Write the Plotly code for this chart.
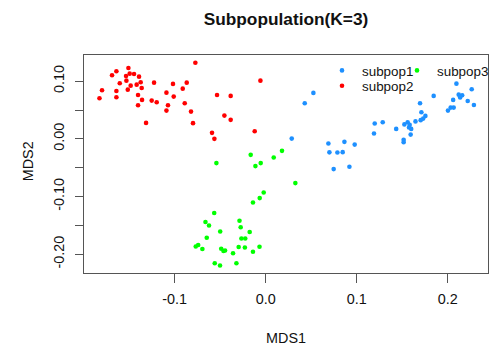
import plotly.graph_objects as go

# ---- data ----
subpop1_x = [0.0524, 0.0429, 0.0286, 0.1198, 0.1286, 0.1190, 0.0689, 0.0865, 0.0978, 0.0700,
             0.0788, 0.0846, 0.0747, 0.0920, 0.1434, 0.1524, 0.1560, 0.1582, 0.1575, 0.1599,
             0.1646, 0.1593, 0.1516, 0.1516, 0.1696, 0.1711, 0.1755, 0.1731, 0.1703, 0.1846,
             0.2096, 0.2264, 0.2121, 0.2159, 0.2137, 0.2060, 0.2220, 0.2288, 0.2033, 0.2066,
             0.2003]
subpop1_y = [0.0796, 0.0618, 0.0005, 0.0265, 0.0289, 0.0092, -0.0081, -0.0052, -0.0099, -0.0234,
             -0.0237, -0.0230, -0.0524, -0.0484, 0.0173, 0.0251, 0.0289, 0.0242, 0.0196, 0.0173,
             0.0303, 0.0074, -0.0017, -0.0057, 0.0618, 0.0462, 0.0398, 0.0351, 0.0324, 0.0744,
             0.0957, 0.0860, 0.0766, 0.0756, 0.0718, 0.0675, 0.0657, 0.0588, 0.0542, 0.0542,
             0.0490]

subpop2_x = [-0.1509, -0.1641, -0.1689, -0.1535, -0.1495, -0.1447, -0.1392, -0.1531, -0.1374, -0.1418,
             -0.1484, -0.1604, -0.1363, -0.1516, -0.1799, -0.1641, -0.1227, -0.1019, -0.0868, -0.0912,
             -0.1091, -0.1403, -0.1011, -0.1827, -0.1641, -0.1359, -0.1253, -0.1198, -0.1403, -0.1074,
             -0.0890, -0.1091, -0.1315, -0.0821, -0.0773, -0.0058, -0.0535, -0.0385, -0.0454, -0.0385,
             -0.0799, -0.0590, -0.0564, -0.0121]
subpop2_y = [0.1228, 0.1171, 0.1102, 0.1090, 0.1130, 0.1125, 0.1078, 0.1009, 0.0981, 0.0939,
             0.0922, 0.0964, 0.0882, 0.0853, 0.0843, 0.0830, 0.0974, 0.0952, 0.0974, 0.0870,
             0.0801, 0.0761, 0.0732, 0.0704, 0.0721, 0.0675, 0.0663, 0.0635, 0.0583, 0.0583,
             0.0618, 0.0490, 0.0277, 0.0472, 0.1320, 0.1009, 0.0761, 0.0744, 0.0403, 0.0329,
             0.0272, 0.0104, 0.0000, 0.0133]

subpop3_x = [-0.0165, 0.0179, 0.0088, -0.0542, -0.0113, -0.0055, 0.0326, -0.0022, -0.0066, -0.0140,
             -0.0566, -0.0662, -0.0623, -0.0288, -0.0275, -0.0500, -0.0176, -0.0648, -0.0267, -0.0225,
             -0.0769, -0.0742, -0.0696, -0.0489, -0.0464, -0.0447, -0.0297, -0.0229, -0.0068, -0.0140,
             -0.0359, -0.0560, -0.0502, -0.0322]
subpop3_y = [-0.0277, -0.0208, -0.0324, -0.0420, -0.0472, -0.0420, -0.0766, -0.0929, -0.1026, -0.1102,
             -0.1284, -0.1441, -0.1500, -0.1419, -0.1531, -0.1606, -0.1614, -0.1713, -0.1725, -0.1725,
             -0.1865, -0.1839, -0.1908, -0.1903, -0.1943, -0.1933, -0.1874, -0.1882, -0.1869, -0.1955,
             -0.1981, -0.2154, -0.2194, -0.2154]

x_tickvals = [-0.1, 0.0, 0.1, 0.2]
x_ticktext = ["-0.1", "0.0", "0.1", "0.2"]
y_tickvals = [-0.20, -0.15, -0.10, -0.05, 0.00, 0.05, 0.10]
y_ticktext = ["-0.20", "", "-0.10", "", "0.00", "", "0.10"]

FONT = "Liberation Sans, Arial, Helvetica, sans-serif"
BLUE = "#1E90FF"
RED = "#FF0000"
GREEN = "#00FF00"
MSIZE = 4.6

fig = go.Figure()
fig.add_trace(go.Scatter(x=subpop1_x, y=subpop1_y, mode="markers", name="subpop1",
                         marker=dict(color=BLUE, size=MSIZE, line=dict(width=0)),
                         legend="legend"))
fig.add_trace(go.Scatter(x=subpop2_x, y=subpop2_y, mode="markers", name="subpop2",
                         marker=dict(color=RED, size=MSIZE, line=dict(width=0)),
                         legend="legend3"))
fig.add_trace(go.Scatter(x=subpop3_x, y=subpop3_y, mode="markers", name="subpop3",
                         marker=dict(color=GREEN, size=MSIZE, line=dict(width=0)),
                         legend="legend2"))

W, H = 490, 345
ML, MR, MT, MB = 84, 2, 55, 72
PW, PH = W - ML - MR, H - MT - MB


def px2paper_x(px):
    return (px - ML) / PW


def px2paper_y(py):
    return (H - MB - py) / PH


leg_common = dict(bgcolor="rgba(0,0,0,0)", borderwidth=0, xanchor="left", yanchor="middle",
                  font=dict(family=FONT, size=13.4, color="#111111"), itemwidth=30)

fig.update_layout(
    width=W, height=H,
    margin=dict(l=ML, r=MR, t=MT, b=MB, pad=0, autoexpand=False),
    paper_bgcolor="white", plot_bgcolor="white",
    font=dict(family=FONT, size=14.4, color="#111111"),
    title=dict(text="<b>Subpopulation(K=3)</b>", x=0.5, xref="paper", xanchor="center",
               y=1 - 19 / H, yanchor="middle",
               font=dict(family=FONT, size=17.3, color="#111111")),
    showlegend=True,
    legend=dict(x=px2paper_x(322), y=px2paper_y(70.7), **leg_common),
    legend2=dict(x=px2paper_x(397), y=px2paper_y(70.7), **leg_common),
    legend3=dict(x=px2paper_x(322), y=px2paper_y(86), **leg_common),
    xaxis=dict(range=[-0.1997, 0.2443], tickvals=x_tickvals, ticktext=x_ticktext,
               showgrid=False, zeroline=False, showline=True, mirror=True,
               linecolor="#555555", linewidth=1, ticks="outside", ticklen=9,
               tickcolor="#555555", tickwidth=1, automargin=False, ticklabelstandoff=4,
               tickfont=dict(family=FONT, size=14.4, color="#111111")),
    yaxis=dict(range=[-0.2324, 0.1453], tickvals=y_tickvals, ticktext=y_ticktext,
               showgrid=False, zeroline=False, showline=True, mirror=True,
               linecolor="#555555", linewidth=1, ticks="outside", ticklen=8.5,
               tickcolor="#555555", tickwidth=1, tickangle=-90, automargin=False,
               ticklabelstandoff=5,
               tickfont=dict(family=FONT, size=14.4, color="#111111")),
    annotations=[
        dict(text="MDS1", xref="paper", yref="paper", x=0.5, y=px2paper_y(338),
             xanchor="center", yanchor="middle", showarrow=False,
             font=dict(family=FONT, size=14.4, color="#111111")),
        dict(text="MDS2", xref="paper", yref="paper", x=px2paper_x(28.3), y=px2paper_y(161),
             xanchor="center", yanchor="middle", showarrow=False, textangle=-90,
             font=dict(family=FONT, size=14.4, color="#111111")),
    ],
)

fig.write_html("out.html")
